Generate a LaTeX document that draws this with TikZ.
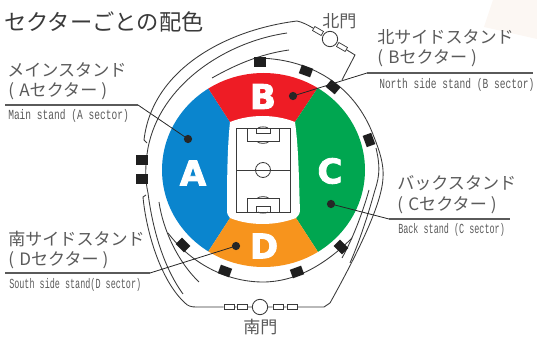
\documentclass[tikz,border=0pt]{standalone}
\usepackage{fontspec}
\setmainfont{Noto Sans CJK JP}
\newfontfamily\enfont[FakeStretch=0.69]{Liberation Mono}
\newfontfamily\ennarrow[FakeStretch=0.61]{Liberation Mono}
\newfontfamily\bigfont[FakeBold=2.6]{DejaVu Sans Bold}
\definecolor{blockA}{HTML}{0A85CE}
\definecolor{blockB}{HTML}{EE1C25}
\definecolor{blockC}{HTML}{00A650}
\definecolor{blockD}{HTML}{F7941D}
\definecolor{inkdark}{HTML}{3A3A3A}
\definecolor{inkgray}{HTML}{5A5A5A}
\definecolor{paper}{HTML}{FCF7F3}
\tikzset{
  wall/.style={line width=0.65pt, draw=inkdark},
  pitch/.style={line width=0.6pt, draw=inkdark},
  bar/.style={line width=0.8pt, draw=inkgray},
  leader/.style={line width=0.6pt, draw=black!85},
  spot/.style={circle, fill=black!85, inner sep=0pt, minimum size=6.2pt},
  gate/.style={circle, draw=inkdark, line width=0.65pt, fill=white, inner sep=0pt, minimum size=11.5pt},
  latch/.style={rectangle, draw=inkdark, line width=0.55pt, fill=white, inner sep=0pt, minimum width=7.5pt, minimum height=3.5pt},
  pier/.style={rectangle, fill=black!88, inner sep=0pt, minimum width=9pt, minimum height=6.8pt},
  heading/.style={anchor=west, inner sep=0pt, text=inkdark, font=\fontsize{16.7}{18}\selectfont},
  jplabel/.style={anchor=west, inner sep=0pt, text=inkgray, font=\fontsize{12.8}{14}\selectfont},
  enlabel/.style={anchor=west, inner sep=0pt, text=inkgray, font=\enfont\fontsize{10.4}{11}\selectfont},
  ennarrowlabel/.style={enlabel, font=\ennarrow\fontsize{10.4}{11}\selectfont},
  block/.style={text=white, inner sep=0pt, font=\bigfont\fontsize{25.5}{26}\selectfont}
}
\newcommand{\secname}[1]{(\hspace{4pt}#1\hspace{3pt})}
\begin{document}
\begin{tikzpicture}[x=0.75pt, y=-0.75pt]
  \useasboundingbox (0,0) rectangle (537,338);
  % Pale corner of the paper
  \fill[paper] (493,0) -- (484,27) -- (537,39) -- (537,0) -- cycle;

  % Coloured stands
  \begin{scope}
    \clip (263.5,170) ellipse [x radius=101.5, y radius=97];
    \fill[blockA] (230,122) -- (195,68) -- (100,68) -- (100,272) -- (195,272) -- (230,218) -- cycle;
    \fill[blockB] (230,122) -- (195,68) -- (331,68) -- (295,122) -- cycle;
    \fill[blockC] (295,122) -- (331,68) -- (400,68) -- (400,272) -- (331,272) -- (296,218) -- cycle;
    \fill[blockD] (230,218) -- (195,272) -- (331,272) -- (296,218) -- cycle;
  \end{scope}
  \fill[white] (230,122) .. controls (250,114) and (275,114) .. (295,122)
    .. controls (299,150) and (299,190) .. (300,210)
    .. controls (300,214) and (298,216) .. (296,218)
    .. controls (275,226) and (250,226) .. (230,218)
    .. controls (228,216) and (227,214) .. (227,210)
    .. controls (227,190) and (227,150) .. (230,122) -- cycle;

  % Pitch
  \draw[pitch] (236,128) rectangle (290,212);
  \draw[pitch] (236,170) -- (290,170);
  \draw[pitch] (263,170) circle (7.5);
  \foreach \ends/\side in {128/1, 212/-1} {
    \draw[pitch] (247,\ends) rectangle (279,\ends+13.5*\side);
    \draw[pitch] (256,\ends) rectangle (270,\ends+5.5*\side);
    \draw[pitch] (257,\ends+13.5*\side) .. controls (259,\ends+16*\side) and (267,\ends+16*\side) .. (269,\ends+13.5*\side);
    \draw[pitch] (258,\ends) .. controls (260,\ends-1.5*\side) and (266,\ends-1.5*\side) .. (268,\ends);
  }

  % Walls around the ground
  \coordinate (northwall) at (297,21);
  \coordinate (northjoin) at (342,80);
  \coordinate (southwest) at (196,307);
  \coordinate (southeast) at (324,307);
  \coordinate (southcurve) at (330,303);
  \draw[wall] (147,143) -- (144,140) .. controls (152,70) and (225,30) .. (northwall);
  \draw[wall] (287,33) .. controls (225,42) and (160,85) .. (148,148)
    .. controls (145,165) and (145,180) .. (148,193)
    .. controls (152,225) and (162,265) .. (183,294);
  \draw[wall] (212,78) .. controls (235,65) and (260,54) .. (289,50);
  \draw[wall] (255,58) .. controls (310,58) and (355,85) .. (374,137)
    .. controls (380,152) and (384,165) .. (383,178)
    .. controls (382,200) and (365,240) .. (southcurve);
  \draw[wall] (168,233) .. controls (190,262) and (225,282) .. (263,282)
    .. controls (295,282) and (325,265) .. (352,238);
  \draw[wall] (376,148) .. controls (380,165) and (380,175) .. (375,190)
    .. controls (368,215) and (360,240) .. (350,263);
  \draw[wall] (369,190) .. controls (362,215) and (352,240) .. (342,258);
  \draw[wall] (159,202) .. controls (163,230) and (178,262) .. (199,282);
  \draw[wall] (146,195) -- (143,197) .. controls (146,230) and (160,280) .. (185,303)
    .. controls (188,306) and (191,307) .. (southwest);

  % Piers on the ring
  \foreach \px/\py/\turn in {260/62/0, 306/71/20, 333/87/40, 369/140/70, 142/160/0, 142/179/0, 183/245/45, 225/271/20, 297/272/-20, 341/247/45} {
    \node[pier, rotate=-\turn] at (\px,\py) {};
  }

  % North gate
  \node[gate] (northgate) at (330,39) {};
  \node[latch, rotate=-30] (northleft) at (318,31) {};
  \node[latch, rotate=-30] (northright) at (342,47) {};
  \coordinate (northbend) at (355,55);
  \draw[wall] (northwall) .. controls (302,22) and (308,25) .. (northleft);
  \draw[wall] (northright) -- (northbend) -- (northjoin);

  % South gate
  \node[gate] (southgate) at (260,307) {};
  \node[latch] (southa) at (229,307) {};
  \node[latch] (southb) at (242,307) {};
  \node[latch] (southc) at (278,307) {};
  \node[latch] (southd) at (292,307) {};
  \draw[wall] (southwest) -- (southa) (southa) -- (southb) (southb) -- (southgate) (southgate) -- (southc) (southc) -- (southd) (southd) -- (southeast) -- (southcurve);

  % Big letters
  \node[block] (letterA) at (193,173) {A};
  \node[block] (letterB) at (263,96.5) {B};
  \node[block] (letterC) at (330,171) {C};
  \node[block] (letterD) at (264,246) {D};

  % Leaders
  \node[spot] (spotA) at (188,139) {};
  \node[spot] (spotB) at (293,96) {};
  \node[spot] (spotC) at (331,204) {};
  \node[spot] (spotD) at (236,246) {};
  \coordinate (elbowA) at (138,105);
  \coordinate (elbowB) at (367,73);
  \coordinate (elbowC) at (389,219);
  \coordinate (elbowD) at (150,273);
  \coordinate (endA) at (5,105);
  \coordinate (endB) at (533,73);
  \coordinate (endC) at (510,219);
  \coordinate (endD) at (5,273);
  \draw[leader] (spotA.center) -- (elbowA);
  \draw[leader] (spotB.center) -- (elbowB);
  \draw[leader] (spotC.center) -- (elbowC);
  \draw[leader] (spotD.center) -- (elbowD);
  \draw[bar] (elbowA) -- (endA);
  \draw[bar] (elbowB) -- (endB);
  \draw[bar] (elbowC) -- (endC);
  \draw[bar] (elbowD) -- (endD);

  % Labels
  \node[heading] (title) at (4,22) {セクターごとの配色};
  \node[jplabel] (gatenorth) at (322,21) {北門};
  \node[jplabel] (gatesouth) at (243,327) {南門};

  \node[jplabel] (mainjp) at (7,70) {メインスタンド};
  \node[jplabel] (mainsec) at (8,91) {\secname{Aセクター}};
  \node[enlabel] (mainen) at (8,116) {Main stand (A sector)};

  \node[jplabel] (northjp) at (377,37) {北サイドスタンド};
  \node[jplabel] (northsec) at (377,58) {\secname{Bセクター}};
  \node[enlabel] (northen) at (379,85) {North side stand (B sector)};

  \node[jplabel] (backjp) at (397,183) {バックスタンド};
  \node[jplabel] (backsec) at (397,205) {\secname{Cセクター}};
  \node[ennarrowlabel] (backen) at (398,230) {Back stand (C sector)};

  \node[jplabel] (southjp) at (8,239) {南サイドスタンド};
  \node[jplabel] (southsec) at (8,260) {\secname{Dセクター}};
  \node[ennarrowlabel] (southen) at (9,285) {South side stand(D sector)};
\end{tikzpicture}
\end{document}
